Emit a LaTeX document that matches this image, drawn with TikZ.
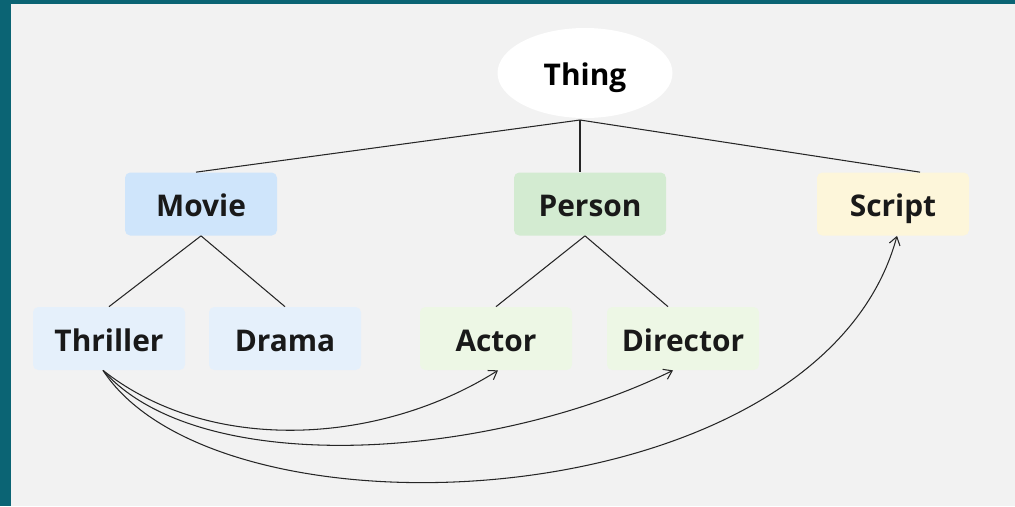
\documentclass[tikz,border=0pt]{standalone}
\usepackage{fontspec}
\setmainfont{Open Sans}
\usetikzlibrary{shapes.geometric, arrows.meta}
\definecolor{frame}{HTML}{0B6474}
\definecolor{paper}{HTML}{F2F2F2}
\definecolor{movieblue}{HTML}{CFE5FB}
\definecolor{subblue}{HTML}{E5F0FB}
\definecolor{persongreen}{HTML}{D3EBD1}
\definecolor{subgreen}{HTML}{EDF7E5}
\definecolor{scriptyellow}{HTML}{FDF6DA}
\tikzset{
    classbox/.style={rounded corners=3pt, minimum width=3.04cm, minimum height=1.26cm,
        text height=0.5cm, text depth=0pt,
        font=\fontsize{17}{20}\selectfont\bfseries, text=black!90},
    link/.style={line width=0.6pt, black!85},
    relation/.style={line width=0.6pt, black!85, -{Straight Barb[length=1.6mm, width=2.2mm]}},
}

\begin{document}
\begin{tikzpicture}
\useasboundingbox (0,0) rectangle (20.3,-10.12);
\fill[paper] (0,0) rectangle (20.3,-10.12);
\fill[frame] (0,0) rectangle (0.22,-10.12);
\fill[frame] (0,0) rectangle (20.3,-0.08);

\node[ellipse, fill=white, minimum width=3.5cm, minimum height=1.8cm,
    text height=0.5cm, text depth=0pt,
    font=\fontsize{17}{20}\selectfont\bfseries] (thing) at (11.7,-1.46) {Thing};

\node[classbox, fill=movieblue] (movie) at (4.02,-4.08) {Movie};
\node[classbox, fill=persongreen] (person) at (11.8,-4.08) {Person};
\node[classbox, fill=scriptyellow] (script) at (17.86,-4.08) {Script};

\node[classbox, fill=subblue] (thriller) at (2.18,-6.77) {Thriller};
\node[classbox, fill=subblue] (drama) at (5.7,-6.77) {Drama};
\node[classbox, fill=subgreen] (actor) at (9.92,-6.77) {Actor};
\node[classbox, fill=subgreen] (director) at (13.66,-6.77) {Director};

% tree
\coordinate (hub) at (11.6,-2.4);
\draw[link] (hub) -- ([xshift=-0.1cm]movie.north);
\draw[link] (hub) -- ([xshift=-0.2cm]person.north);
\draw[link] (hub) -- ([xshift=0.54cm]script.north);
\draw[link] (movie.south) -- (thriller.north);
\draw[link] (movie.south) -- (drama.north);
\draw[link] ([xshift=-0.1cm]person.south) -- (actor.north);
\draw[link] ([xshift=-0.1cm]person.south) -- ([xshift=-0.3cm]director.north);

% relations
\draw[relation] ([xshift=-0.12cm]thriller.south) .. controls (4.2,-9.1) and (7.6,-8.9) .. ([xshift=0.04cm]actor.south);
\draw[relation] ([xshift=-0.12cm]thriller.south) .. controls (4.0,-9.6) and (9.8,-9.2) .. ([xshift=-0.2cm]director.south);
\draw[relation] ([xshift=-0.12cm]thriller.south) .. controls (4.4,-11.0) and (16.4,-10.4) .. ([xshift=0.08cm]script.south);
\end{tikzpicture}
\end{document}
